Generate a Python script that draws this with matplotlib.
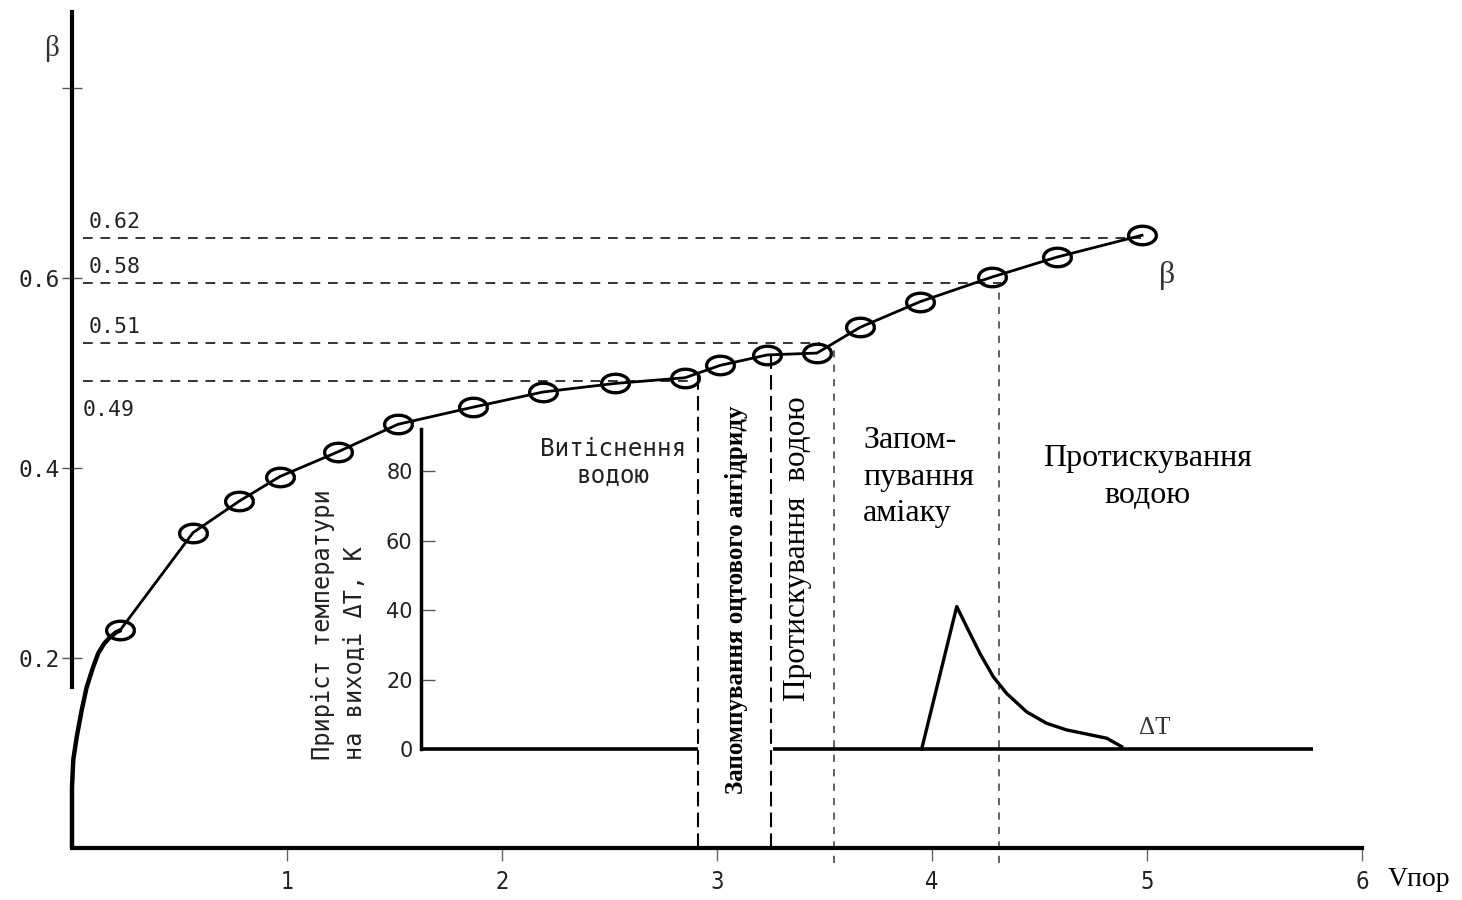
import numpy as np
import matplotlib.pyplot as plt
from matplotlib.path import Path

# initial rise of beta (thick curve)
v_start = [0.0, 0.0, 0.0, 0.006, 0.022, 0.045, 0.068, 0.096, 0.122, 0.149, 0.177, 0.205, 0.223]
b_start = [0.0, 0.029, 0.064, 0.093, 0.117, 0.145, 0.169, 0.189, 0.205, 0.215, 0.222, 0.227, 0.229]

# measured beta points
v_pts = [0.223, 0.563, 0.777, 0.967, 1.237, 1.516, 1.865, 2.191, 2.526,
         2.851, 3.014, 3.233, 3.465, 3.665, 3.944, 4.279, 4.581, 4.977]
beta_pts = [0.229, 0.332, 0.365, 0.391, 0.417, 0.446, 0.464, 0.480, 0.489,
            0.495, 0.508, 0.519, 0.521, 0.548, 0.575, 0.601, 0.622, 0.645]

# reference levels
level_labels = ['0.62', '0.58', '0.51', '0.49']
level_y = [0.642, 0.595, 0.532, 0.492]
level_end = [4.97, 4.32, 3.48, 2.90]

# stage boundaries
stage_x = [2.912, 3.251, 3.544, 4.312]
stage_top = [0.503, 0.522, 0.530, 0.595]

# temperature rise at outlet
dt_v = [3.952, 4.115, 4.161, 4.223, 4.285, 4.347, 4.440, 4.533, 4.626,
        4.720, 4.813, 4.882]
dt_val = [0, 41.0, 35.2, 27.5, 20.8, 16.0, 10.7, 7.4, 5.5, 4.3, 3.1, 0.7]
dt_base_from = [1.623, 3.26]
dt_base_to = [2.912, 5.77]
dt_ticks = [0, 20, 40, 60, 80]

W, H = 1462, 900
fig = plt.figure(figsize=(W / 100, H / 100), dpi=100)

ax = fig.add_axes([72 / W, 52 / H, 1290 / W, 0.88 * 950 / H])
ax.set_xlim(0, 6)
ax.set_ylim(0, 0.88)
ax.patch.set_alpha(0)
for s in ['top', 'right']:
    ax.spines[s].set_visible(False)
ax.spines['left'].set_linewidth(3)
ax.spines['left'].set_bounds(0.17, 0.88)
ax.spines['bottom'].set_linewidth(3)

ax.set_yticks([0.2, 0.4, 0.6, 0.8])
ax.set_yticklabels(['0.2', '0.4', '0.6', ''], family='DejaVu Sans Mono',
                   fontsize=16.5, color='#222')
ax.tick_params(axis='y', direction='inout', length=14, width=1, color='#555', pad=2)
ax.set_xticks([1, 2, 3, 4, 5, 6])
ax.set_xticklabels(['1', '2', '3', '4', '5', '6'], fontsize=17, color='#222',
                   fontstretch='condensed')
ax.tick_params(axis='x', direction='out', length=9, width=1, color='#666', pad=7)

t = np.linspace(0, 2 * np.pi, 50)
ellipse = Path(np.column_stack([1.5 * np.cos(t), np.sin(t)]))

ax.plot(v_start, b_start, color='black', lw=3.2, solid_capstyle='round', clip_on=False)
ax.plot(v_pts, beta_pts, color='black', lw=2, marker=ellipse, ms=20,
        mfc='none', mec='black', mew=2.4, zorder=4)

for lab, y, xe in zip(level_labels, level_y, level_end):
    ax.plot([0.05, xe], [y, y], color='#333', lw=1.4, ls=(0, (5, 4)))
    below = lab == '0.49'
    ax.text(0.05 if below else 0.075, y - 0.02 if below else y + 0.006, lab,
            family='DejaVu Sans Mono', fontsize=15.5, color='#222',
            va='top' if below else 'bottom')

for i, (xs, yt) in enumerate(zip(stage_x, stage_top)):
    if i < 2:
        ax.plot([xs, xs], [0, yt], color='black', lw=1.5, ls=(0, (7, 3)))
    else:
        ax.plot([xs, xs], [-0.016, yt], color='#555', lw=1.3, ls=(0, (4, 4)),
                clip_on=False)

# inset with temperature rise
axT = fig.add_axes([72 / W, (H - 766.4) / H, 1290 / W, 105 * 3.475 / H])
axT.set_xlim(0, 6)
axT.set_ylim(-5, 100)
axT.patch.set_alpha(0)
for s in ['top', 'right', 'bottom']:
    axT.spines[s].set_visible(False)
axT.spines['left'].set_position(('data', dt_base_from[0]))
axT.spines['left'].set_bounds(0, 92)
axT.spines['left'].set_linewidth(2.5)
axT.set_xticks([])
axT.set_yticks(dt_ticks)
axT.set_yticklabels([str(v) for v in dt_ticks], fontsize=15, color='#222')
axT.tick_params(axis='y', direction='in', length=10, width=1, color='#555', pad=6)

for a, b in zip(dt_base_from, dt_base_to):
    axT.plot([a, b], [0, 0], color='black', lw=2.6, solid_capstyle='butt')
axT.plot(dt_v, dt_val, color='black', lw=2.4, solid_joinstyle='round')

def px(x, y):
    return x / W, 1 - y / H

serif = 'Liberation Serif'
fig.text(*px(52, 48), 'β', family=serif, fontsize=21, ha='center', va='center', color='#333')
fig.text(*px(1167, 275), 'β', family=serif, fontsize=23, ha='center', va='center', color='#333')
fig.text(*px(1155, 728), 'ΔT', family=serif, fontsize=18, ha='center', va='center', color='#333')
fig.text(*px(1388, 880), 'Vпор', family=serif, fontsize=20, ha='left', va='center')
fig.text(*px(613, 462), 'Витіснення\nводою', family='DejaVu Sans Mono', fontsize=17.5,
         ha='center', va='center', linespacing=1.15, color='#222')
fig.text(*px(339, 760), 'Приріст температури\nна виході ΔT, К', family='DejaVu Sans Mono',
         fontsize=17, rotation=90, ha='center', va='bottom', multialignment='left',
         linespacing=1.45, color='#222')
fig.text(*px(737, 600), 'Запомпування оцтового ангідриду', family=serif, weight='bold',
         fontsize=18, rotation=90, ha='center', va='center')
fig.text(*px(798, 549), 'Протискування  водою', family=serif, fontsize=22.5,
         rotation=90, ha='center', va='center')
fig.text(*px(863, 477), 'Запом-\nпування\nаміаку', family=serif, fontsize=23,
         ha='left', va='center', linespacing=1.35)
fig.text(*px(1148, 477), 'Протискування\nводою', family=serif, fontsize=23,
         ha='center', va='center', linespacing=1.35)

fig.savefig('out.png', dpi=100)
